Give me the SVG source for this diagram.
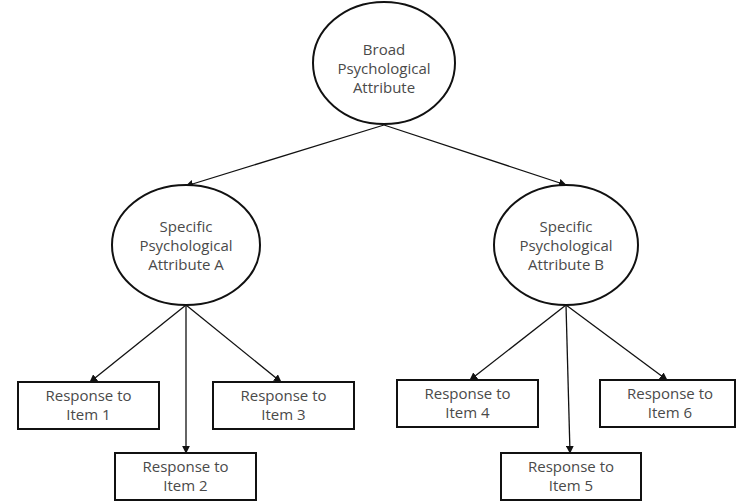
<svg xmlns="http://www.w3.org/2000/svg" width="737" height="502" viewBox="0 0 737 502">
  <defs>
    <marker id="arrow" viewBox="0 0 10 10" refX="9" refY="5" markerWidth="8" markerHeight="8" markerUnits="userSpaceOnUse" orient="auto">
      <path d="M0,0 L10,5 L0,10 z" fill="#111"/>
    </marker>
    <style>
      .shape { fill: #fff; stroke: #111; stroke-width: 2; }
      .edge { stroke: #111; stroke-width: 1.3; fill: none; marker-end: url(#arrow); }
      .label { font-family: "Open Sans", Lato, "Noto Sans", sans-serif; font-size: 15px; fill: #4a4a4a; text-anchor: middle; }
    </style>
  </defs>
  <rect width="737" height="502" fill="#fff"/>

  <g id="connectors">
    <line class="edge" x1="384" y1="125" x2="186" y2="186"/>
    <line class="edge" x1="384" y1="125" x2="566" y2="185"/>
    <line class="edge" x1="186" y1="305" x2="90" y2="382"/>
    <line class="edge" x1="186" y1="305" x2="186" y2="453"/>
    <line class="edge" x1="186" y1="305" x2="281" y2="382"/>
    <line class="edge" x1="566" y1="305" x2="470" y2="380"/>
    <line class="edge" x1="566" y1="305" x2="570" y2="453"/>
    <line class="edge" x1="566" y1="305" x2="667" y2="380"/>
  </g>

  <g id="broad">
    <ellipse class="shape" cx="384" cy="63" rx="71" ry="61"/>
    <text class="label" x="384" y="55">Broad</text>
    <text class="label" x="384" y="74">Psychological</text>
    <text class="label" x="384" y="93">Attribute</text>
  </g>

  <g id="specificA">
    <ellipse class="shape" cx="186" cy="245" rx="74" ry="60"/>
    <text class="label" x="186" y="232">Specific</text>
    <text class="label" x="186" y="251">Psychological</text>
    <text class="label" x="186" y="270">Attribute A</text>
  </g>

  <g id="specificB">
    <ellipse class="shape" cx="566" cy="245" rx="72" ry="60"/>
    <text class="label" x="566" y="232">Specific</text>
    <text class="label" x="566" y="251">Psychological</text>
    <text class="label" x="566" y="270">Attribute B</text>
  </g>

  <g id="item1">
    <rect class="shape" x="18" y="382" width="141" height="47"/>
    <text class="label" x="88.5" y="401">Response to</text>
    <text class="label" x="88.5" y="420">Item 1</text>
  </g>
  <g id="item2">
    <rect class="shape" x="115" y="453" width="141" height="47"/>
    <text class="label" x="185.5" y="472">Response to</text>
    <text class="label" x="185.5" y="491">Item 2</text>
  </g>
  <g id="item3">
    <rect class="shape" x="213" y="382" width="141" height="47"/>
    <text class="label" x="283.5" y="401">Response to</text>
    <text class="label" x="283.5" y="420">Item 3</text>
  </g>
  <g id="item4">
    <rect class="shape" x="397" y="380" width="141" height="47"/>
    <text class="label" x="467.5" y="399">Response to</text>
    <text class="label" x="467.5" y="418">Item 4</text>
  </g>
  <g id="item5">
    <rect class="shape" x="501" y="453" width="140" height="47"/>
    <text class="label" x="571" y="472">Response to</text>
    <text class="label" x="571" y="491">Item 5</text>
  </g>
  <g id="item6">
    <rect class="shape" x="600" y="380" width="135" height="47"/>
    <text class="label" x="670" y="399">Response to</text>
    <text class="label" x="670" y="418">Item 6</text>
  </g>
</svg>
